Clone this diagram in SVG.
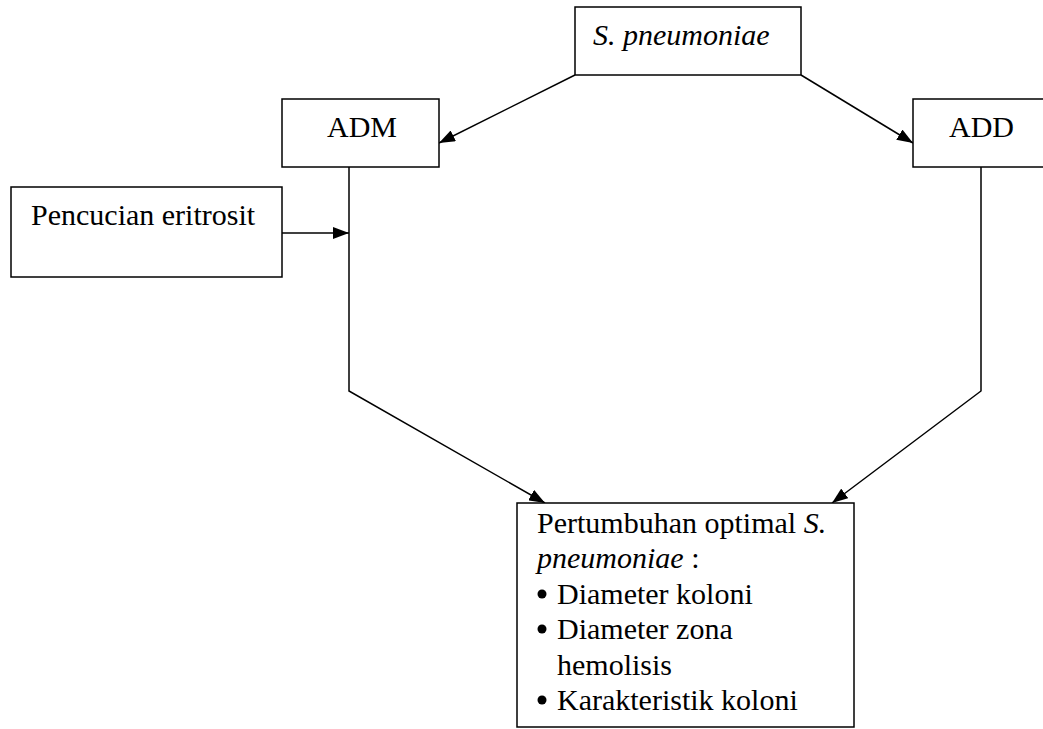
<svg xmlns="http://www.w3.org/2000/svg" width="1043" height="729" viewBox="0 0 1043 729">
<style>
.box{fill:#fff;stroke:#000;stroke-width:1.5}
.t{font-family:"Liberation Serif","Times New Roman",serif;font-size:30px;fill:#000}
.i{font-style:italic}
.c{fill:none;stroke:#000;stroke-width:1.5}
.b{fill:#000}
</style>
<defs>
<marker id="ah" viewBox="0 0 16 12" refX="16" refY="6" markerWidth="16" markerHeight="12" markerUnits="userSpaceOnUse" orient="auto">
<path d="M0,0 L16,6 L0,12 Z" fill="#000"/>
</marker>
</defs>
<rect width="1043" height="729" fill="#fff"/>
<g id="connectors">
<line class="c" x1="575" y1="75" x2="439" y2="143" marker-end="url(#ah)"/>
<line class="c" x1="801" y1="75" x2="913" y2="143" marker-end="url(#ah)"/>
<line class="c" x1="282" y1="233" x2="349" y2="233" marker-end="url(#ah)"/>
<polyline class="c" points="349,167 349,391 545,503" marker-end="url(#ah)"/>
<polyline class="c" points="981,167 981,391 832,503" marker-end="url(#ah)"/>
</g>
<g id="spn">
<rect class="box" x="575" y="7" width="226" height="68"/>
<text class="t i" x="593" y="45">S. pneumoniae</text>
</g>
<g id="adm">
<rect class="box" x="282" y="99" width="157" height="68"/>
<text class="t" x="327" y="137">ADM</text>
</g>
<g id="add">
<rect class="box" x="913" y="99" width="157" height="68"/>
<text class="t" x="949" y="137">ADD</text>
</g>
<g id="pencucian">
<rect class="box" x="11" y="187" width="271" height="90"/>
<text class="t" x="31" y="225">Pencucian eritrosit</text>
</g>
<g id="hasil">
<rect class="box" x="517" y="503" width="337" height="224"/>
<text class="t" x="537" y="533">Pertumbuhan optimal <tspan class="i">S.</tspan></text>
<text class="t" x="537" y="568"><tspan class="i">pneumoniae</tspan> :</text>
<circle class="b" cx="542" cy="594" r="4.5"/>
<text class="t" x="557" y="604">Diameter koloni</text>
<circle class="b" cx="542" cy="629" r="4.5"/>
<text class="t" x="557" y="639">Diameter zona</text>
<text class="t" x="557" y="675">hemolisis</text>
<circle class="b" cx="542" cy="700" r="4.5"/>
<text class="t" x="557" y="710">Karakteristik koloni</text>
</g>
</svg>
